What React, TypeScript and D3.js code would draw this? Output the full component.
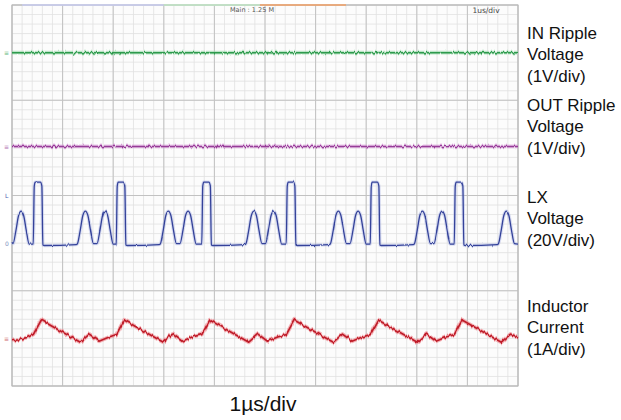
import React from 'react';
import * as d3 from 'd3';

// horizontal: 0..10 µs (1 µs/div); vertical: 0..8 screen divisions
const timeMajor = d3.range(0, 11, 1);
const timeMinor = d3.range(0, 10.001, 0.2);
const divMajor = [0, 2, 4, 6, 8];
const divMinor = d3.range(0, 8.001, 0.2);

// traces, [time µs, screen division]
const inRipple: [number, number][] = [[0, 7.0], [10, 7.0]];
const outRipple: [number, number][] = [[0, 5.03], [10, 5.03]];

const lxVoltage: [number, number][] = [
  [0.00, 3.02], [0.02, 2.99], [0.08, 3.28], [0.13, 3.58], [0.18, 3.67], [0.23, 3.58], [0.28, 3.28], [0.34, 2.98], [0.41, 2.98],
  [0.42, 2.98], [0.44, 4.2], [0.46, 4.28], [0.56, 4.28], [0.59, 4.2], [0.61, 2.96], [0.64, 2.95], [1.27, 2.97],
  [1.29, 2.98], [1.35, 3.28], [1.40, 3.58], [1.45, 3.67], [1.50, 3.58], [1.55, 3.28], [1.61, 2.99],
  [1.68, 2.99], [1.74, 3.28], [1.79, 3.58], [1.84, 3.67], [1.89, 3.58], [1.94, 3.28], [2.00, 2.98], [2.05, 2.98],
  [2.06, 2.98], [2.08, 4.2], [2.10, 4.28], [2.20, 4.28], [2.23, 4.2], [2.25, 2.96], [2.28, 2.95], [2.91, 2.97],
  [2.93, 2.98], [2.99, 3.28], [3.04, 3.58], [3.09, 3.67], [3.14, 3.58], [3.19, 3.28], [3.25, 2.99],
  [3.32, 2.99], [3.38, 3.28], [3.43, 3.58], [3.48, 3.67], [3.53, 3.58], [3.58, 3.28], [3.64, 2.98], [3.74, 2.98],
  [3.75, 2.98], [3.77, 4.2], [3.79, 4.28], [3.89, 4.28], [3.92, 4.2], [3.94, 2.96], [3.97, 2.95], [4.60, 2.97],
  [4.62, 2.98], [4.68, 3.28], [4.73, 3.58], [4.78, 3.67], [4.83, 3.58], [4.88, 3.28], [4.94, 2.99],
  [5.01, 2.99], [5.07, 3.28], [5.12, 3.58], [5.17, 3.67], [5.22, 3.58], [5.27, 3.28], [5.33, 2.98], [5.41, 2.98],
  [5.42, 2.98], [5.44, 4.2], [5.46, 4.28], [5.56, 4.28], [5.59, 4.2], [5.61, 2.96], [5.64, 2.95], [6.27, 2.97],
  [6.29, 2.98], [6.35, 3.28], [6.40, 3.58], [6.45, 3.67], [6.50, 3.58], [6.55, 3.28], [6.61, 2.99],
  [6.68, 2.99], [6.74, 3.28], [6.79, 3.58], [6.84, 3.67], [6.89, 3.58], [6.94, 3.28], [7.00, 2.98], [7.07, 2.98],
  [7.08, 2.98], [7.10, 4.2], [7.12, 4.28], [7.22, 4.28], [7.25, 4.2], [7.27, 2.96], [7.30, 2.95], [7.93, 2.97],
  [7.95, 2.98], [8.01, 3.28], [8.06, 3.58], [8.11, 3.67], [8.16, 3.58], [8.21, 3.28], [8.27, 2.99],
  [8.34, 2.99], [8.40, 3.28], [8.45, 3.58], [8.50, 3.67], [8.55, 3.58], [8.60, 3.28], [8.66, 2.98], [8.73, 2.98],
  [8.74, 2.98], [8.76, 4.2], [8.78, 4.28], [8.88, 4.28], [8.91, 4.2], [8.93, 2.96], [8.96, 2.95], [9.59, 2.97],
  [9.61, 2.98], [9.67, 3.28], [9.72, 3.58], [9.77, 3.67], [9.82, 3.58], [9.87, 3.28], [9.93, 2.99], [10.0, 2.98],
];

const inductorCurrent: [number, number][] = [
  [0.00, 0.95], [0.12, 0.97], [0.30, 1.02], [0.42, 1.08], [0.58, 1.39], [0.60, 1.37],
  [1.35, 0.92], [1.53, 1.09], [1.72, 0.94], [1.92, 1.03],
  [2.06, 1.08], [2.22, 1.39], [2.24, 1.37], [2.99, 0.92], [3.17, 1.09], [3.36, 0.94], [3.56, 1.03],
  [3.75, 1.08], [3.91, 1.39], [3.93, 1.37], [4.68, 0.92], [4.86, 1.09], [5.05, 0.94], [5.25, 1.03],
  [5.42, 1.08], [5.58, 1.39], [5.60, 1.37], [6.35, 0.92], [6.53, 1.09], [6.72, 0.94], [6.92, 1.03],
  [7.08, 1.08], [7.24, 1.39], [7.26, 1.37], [8.01, 0.92], [8.19, 1.09], [8.38, 0.94], [8.58, 1.03],
  [8.74, 1.08], [8.90, 1.39], [8.92, 1.37], [9.67, 0.92], [9.85, 1.09], [10.0, 1.03],
];

const labelIn = ['IN Ripple', 'Voltage', '(1V/div)'];
const labelOut = ['OUT Ripple', 'Voltage', '(1V/div)'];
const labelLx = ['LX', 'Voltage', '(20V/div)'];
const labelIl = ['Inductor', 'Current', '(1A/div)'];

const W = 621;
const H = 420;
const plot = { left: 12, right: 518, top: 5, bottom: 386 };

const x = d3.scaleLinear().domain([0, 10]).range([plot.left, plot.right]);
const y = d3.scaleLinear().domain([0, 8]).range([plot.bottom, plot.top]);

const lineSmooth = d3.line<[number, number]>().x(d => x(d[0])).y(d => y(d[1])).curve(d3.curveMonotoneX);
const lineStraight = d3.line<[number, number]>().x(d => x(d[0])).y(d => y(d[1]));

const NoiseFilter = ({ id, seed, freq, scale }: { id: string; seed: number; freq: string; scale: number }) => (
  <filter id={id} filterUnits="userSpaceOnUse" x={0} y={0} width={W} height={H}>
    <feTurbulence type="fractalNoise" baseFrequency={freq} numOctaves={2} seed={seed} result="n" />
    <feColorMatrix in="n" type="matrix" values="0 0 0 0 0.5  0 1 0 0 0  0 0 1 0 0  0 0 0 0 1" result="nv" />
    <feDisplacementMap in="SourceGraphic" in2="nv" scale={scale} xChannelSelector="R" yChannelSelector="G" />
  </filter>
);

const Trace = ({ d, color, halo, filter, width = 1.5, haloOpacity = 0.55 }:
  { d: string; color: string; halo: string; filter: string; width?: number; haloOpacity?: number }) => (
  <g filter={`url(#${filter})`}>
    <path d={d} fill="none" stroke={halo} strokeWidth={width + 2.2} strokeOpacity={haloOpacity} strokeLinejoin="round" />
    <path d={d} fill="none" stroke={color} strokeWidth={width} strokeLinejoin="round" />
  </g>
);

const Label = ({ lines, top }: { lines: string[]; top: number }) => (
  <text x={527} y={top} fontFamily="Arial, 'Liberation Sans', sans-serif" fontSize={17} fill="#111">
    {lines.map((l, i) => (
      <tspan key={i} x={527} y={top + i * 21.3}>{l}</tspan>
    ))}
  </text>
);

export default function App() {
  return (
    <div style={{ position: 'absolute', left: 0, top: 0 }}>
      <svg width={W} height={H} style={{ display: 'block', background: '#fff' }}>
        <defs>
          <NoiseFilter id="nzA" seed={3} freq="0.45 0.02" scale={5} />
          <NoiseFilter id="nzB" seed={11} freq="0.45 0.02" scale={5} />
          <NoiseFilter id="nzC" seed={7} freq="0.5 0.02" scale={2.5} />
          <NoiseFilter id="nzD" seed={19} freq="0.4 0.02" scale={4.5} />
        </defs>

        <rect x={plot.left} y={plot.top} width={plot.right - plot.left} height={plot.bottom - plot.top} fill="#fcfcfc" />

        {timeMinor.map((t, i) => (
          <line key={'tm' + i} x1={x(t)} x2={x(t)} y1={plot.top} y2={plot.bottom} stroke="#e1e1e1" strokeWidth={0.8} />
        ))}
        {divMinor.map((v, i) => (
          <line key={'dm' + i} x1={plot.left} x2={plot.right} y1={y(v)} y2={y(v)} stroke="#e1e1e1" strokeWidth={0.8} />
        ))}
        {timeMajor.map((t, i) => (
          <line key={'tM' + i} x1={x(t)} x2={x(t)} y1={plot.top} y2={plot.bottom} stroke="#c2c2c2" strokeWidth={1} />
        ))}
        {divMajor.map((v, i) => (
          <line key={'dM' + i} x1={plot.left} x2={plot.right} y1={y(v)} y2={y(v)} stroke="#c2c2c2" strokeWidth={1} />
        ))}
        <rect x={plot.left} y={plot.top} width={plot.right - plot.left} height={plot.bottom - plot.top} fill="none" stroke="#b8b8b8" strokeWidth={1} />

        {/* scope status bar along the top edge */}
        <line x1={x(0.2)} x2={x(3.0)} y1={plot.top} y2={plot.top} stroke="#c9cdf0" strokeWidth={1.5} />
        <line x1={x(3.0)} x2={x(4.9)} y1={plot.top} y2={plot.top} stroke="#bfe6c4" strokeWidth={1.5} />
        <line x1={x(4.9)} x2={x(6.6)} y1={plot.top} y2={plot.top} stroke="#f2a066" strokeWidth={1.5} />
        <text x={252} y={12} textAnchor="middle" fontFamily="'DejaVu Sans', sans-serif" fontSize={6.5} fill="#555">Main : 1.25 M</text>
        <text x={486} y={13} textAnchor="middle" fontFamily="'DejaVu Sans', sans-serif" fontSize={7.5} fill="#444">1us/div</text>

        {/* channel markers at the left edge */}
        <text x={4} y={y(7.0) + 2.5} fontFamily="'DejaVu Sans', sans-serif" fontSize={6} fill="#5fb878">≡</text>
        <text x={4} y={y(5.03) + 2.5} fontFamily="'DejaVu Sans', sans-serif" fontSize={6} fill="#b070b0">≡</text>
        <text x={5} y={y(4.0) + 2.5} fontFamily="'DejaVu Sans', sans-serif" fontSize={6} fill="#5060b0">L</text>
        <text x={5} y={y(3.0) + 2.5} fontFamily="'DejaVu Sans', sans-serif" fontSize={6} fill="#8090c0">0</text>
        <text x={4} y={y(1.0) + 2.5} fontFamily="'DejaVu Sans', sans-serif" fontSize={6} fill="#d07070">≡</text>

        <Trace d={lineStraight(inRipple) || ''} color="#2f9a4e" halo="#86d39a" filter="nzA" />
        <Trace d={lineStraight(outRipple) || ''} color="#963c98" halo="#d99ad8" filter="nzB" />
        <Trace d={lineSmooth(lxVoltage) || ''} color="#34439a" halo="#a4aee0" filter="nzC" width={1.3} haloOpacity={0.4} />
        <Trace d={lineStraight(inductorCurrent) || ''} color="#bf1f2a" halo="#f08a92" filter="nzD" width={1.7} haloOpacity={0.65} />

        <Label lines={labelIn} top={39} />
        <Label lines={labelOut} top={111} />
        <Label lines={labelLx} top={203} />
        <Label lines={labelIl} top={312} />

        <text x={263} y={411} textAnchor="middle" fontFamily="Arial, 'Liberation Sans', sans-serif" fontSize={21} fill="#111">1µs/div</text>
      </svg>
    </div>
  );
}
